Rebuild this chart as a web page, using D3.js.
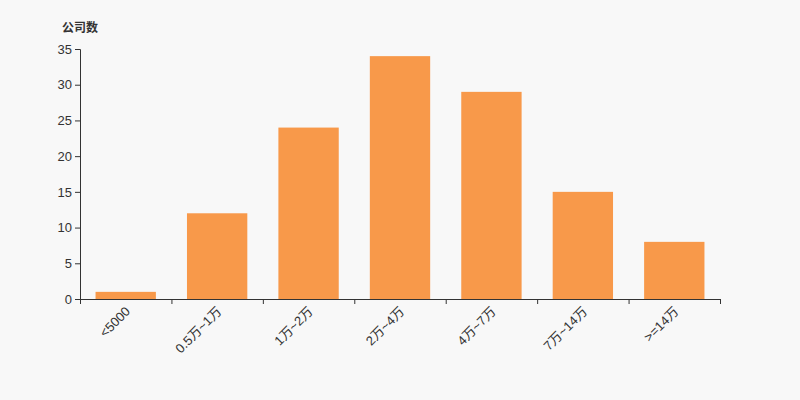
<!DOCTYPE html>
<html><head><meta charset="utf-8">
<script src="https://cdn.jsdelivr.net/npm/d3@7"></script>
<style>body{margin:0;background:#f8f8f8;}svg{display:block;}</style>
</head><body>
<svg id="c" width="800" height="400"></svg>
<script>
const categories = ["<5000","0.5万~1万","1万~2万","2万~4万","4万~7万","7万~14万",">=14万"];
const values = [1,12,24,34,29,15,8];
const yTicks = [0,5,10,15,20,25,30,35];
const yTitle = "公司数";

const svg = d3.select("#c");
svg.append("rect").attr("width",800).attr("height",400).attr("fill","#f8f8f8");
const m = {left:80, right:720, top:49, bottom:299};
const x = d3.scaleBand().domain(categories).range([m.left,m.right]).paddingInner(0.34).paddingOuter(0.17);
const y = d3.scaleLinear().domain([0,35]).range([m.bottom,m.top]);
const font = "'Liberation Sans',Arial,'Noto Sans CJK SC',sans-serif";

svg.selectAll("rect.bar").data(values).enter().append("rect").attr("class","bar")
  .attr("x",(d,i)=>x(categories[i])).attr("width",x.bandwidth())
  .attr("y",d=>y(d)).attr("height",d=>y(0)-y(d)).attr("fill","#f8994a");

const ya = svg.append("g").attr("transform",`translate(${m.left},0)`)
  .call(d3.axisLeft(y).tickValues(yTicks).tickSize(5).tickPadding(3));
ya.select(".domain").attr("stroke","#333");
ya.selectAll(".tick line").attr("stroke","#333");
ya.selectAll("text").attr("fill","#333").style("font-size","13px").style("font-family",font);

const xs = d3.scaleLinear().domain([0,categories.length]).range([m.left,m.right]);
const xa = svg.append("g").attr("transform",`translate(0,${m.bottom})`)
  .call(d3.axisBottom(xs).tickValues(d3.range(categories.length+1)).tickSize(5).tickFormat(""));
xa.select(".domain").attr("stroke","#333");
xa.selectAll(".tick line").attr("stroke","#333");

svg.append("g").selectAll("text").data(categories).enter().append("text")
  .attr("transform",d=>`translate(${x(d)+x.bandwidth()/2+2},${m.bottom+10}) rotate(-45)`)
  .attr("text-anchor","end").attr("dy","0.35em")
  .attr("fill","#333").style("font-size","13px").style("font-family",font)
  .text(d=>d);

svg.append("text").attr("x",62).attr("y",32).attr("fill","#333")
  .style("font-size","12px").style("font-weight","bold").style("font-family",font).text(yTitle);
</script>
</body></html>
